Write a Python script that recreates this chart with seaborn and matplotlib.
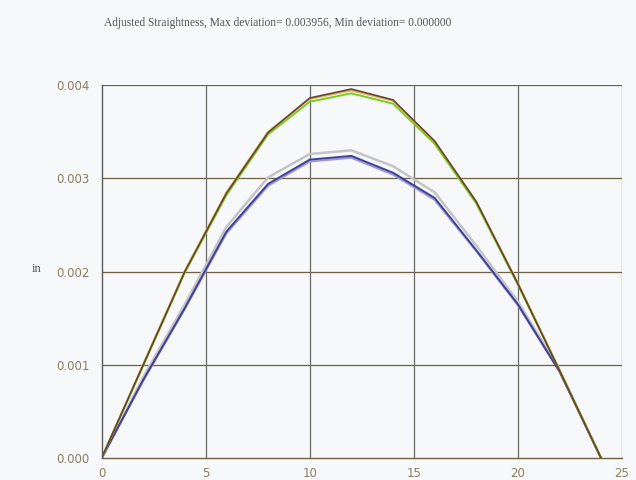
import pandas as pd
import seaborn as sns
import matplotlib.pyplot as plt

# measurement positions along the part
positions = [0, 2, 4, 6, 8, 10, 12, 14, 16, 18, 20, 22, 24]

# upper group of traces (in)
trace_brown = [0.0, 0.00100, 0.00200, 0.00284, 0.00349, 0.00386, 0.003956, 0.00384, 0.00340, 0.00275, 0.00187, 0.00094, 0.0]
trace_green = [0.0, 0.00099, 0.00199, 0.00282, 0.00347, 0.00382, 0.00391, 0.00380, 0.00337, 0.00273, 0.00186, 0.00094, 0.0]
trace_yellow = [0.0, 0.00101, 0.00201, 0.00285, 0.00350, 0.00385, 0.00394, 0.00383, 0.00339, 0.00275, 0.00188, 0.00095, 0.0]

# lower group of traces (in)
trace_grey = [0.0, 0.00087, 0.00165, 0.00248, 0.00301, 0.00326, 0.00330, 0.00313, 0.00285, 0.00228, 0.00168, 0.00095, 0.0]
trace_navy = [0.0, 0.00084, 0.00161, 0.00243, 0.00294, 0.00320, 0.00324, 0.00306, 0.00279, 0.00223, 0.00165, 0.00093, 0.0]
trace_purple = [0.0, 0.00083, 0.00160, 0.00241, 0.00292, 0.00318, 0.00322, 0.00304, 0.00277, 0.00222, 0.00164, 0.00093, 0.0]

title = "Adjusted Straightness, Max deviation= 0.003956, Min deviation= 0.000000"

series = {
    "grey": trace_grey,
    "purple": trace_purple,
    "navy": trace_navy,
    "yellow": trace_yellow,
    "green": trace_green,
    "brown": trace_brown,
}
colors = {
    "grey": "#c4c4c8",
    "purple": "#a098d4",
    "navy": "#40409a",
    "yellow": "#d8c060",
    "green": "#7ccc20",
    "brown": "#6a4030",
}
widths = {"grey": 1.8, "purple": 1.5, "navy": 1.4, "yellow": 1.4, "green": 1.4, "brown": 1.2}

rows = []
for name, vals in series.items():
    for x, y in zip(positions, vals):
        rows.append({"pos": x, "dev": y, "trace": name})
df = pd.DataFrame(rows)

sns.set_style("white")
bg = "#f6f8f9"
fig = plt.figure(figsize=(6.36, 4.8), dpi=100, facecolor=bg)
ax = fig.add_axes([0.1596, 0.045, 0.8184, 0.778])
ax.set_facecolor(bg)

for name in series:
    sns.lineplot(data=df[df["trace"] == name], x="pos", y="dev", color=colors[name],
                 linewidth=widths[name], ax=ax, legend=False)

ax.set_xlim(0, 25)
ax.set_ylim(0, 0.004)
ax.set_xticks([0, 5, 10, 15, 20, 25])
ax.set_yticks([0.0, 0.001, 0.002, 0.003, 0.004])
ax.set_yticklabels(["0.000", "0.001", "0.002", "0.003", "0.004"])
ax.set_xlabel("")
ax.set_ylabel("")

for y in [0.001, 0.002, 0.003, 0.004]:
    ax.axhline(y, color="#6e6040", linewidth=0.9, zorder=0)
for x in [5, 10, 15, 20, 25]:
    ax.axvline(x, color="#6a6a66", linewidth=0.9, zorder=0)

for s in ["top", "right"]:
    ax.spines[s].set_visible(False)
ax.spines["left"].set_color("#5a5a58")
ax.spines["bottom"].set_color("#6e6040")
ax.spines["left"].set_linewidth(1.0)
ax.spines["bottom"].set_linewidth(1.0)

ax.tick_params(axis="both", direction="out", length=5, width=1, color="#5a5a58",
               labelcolor="#8a7d60", labelsize=8.5)
ax.tick_params(axis="x", pad=1)

fig.text(0.058, 0.44, "in", fontsize=9, color="#555555", family="Liberation Serif",
         ha="center", va="center")
fig.text(0.437, 0.952, title, fontsize=8.3, color="#555555", family="Liberation Serif",
         ha="center", va="center")

fig.savefig("out.png", dpi=100, facecolor=bg)
